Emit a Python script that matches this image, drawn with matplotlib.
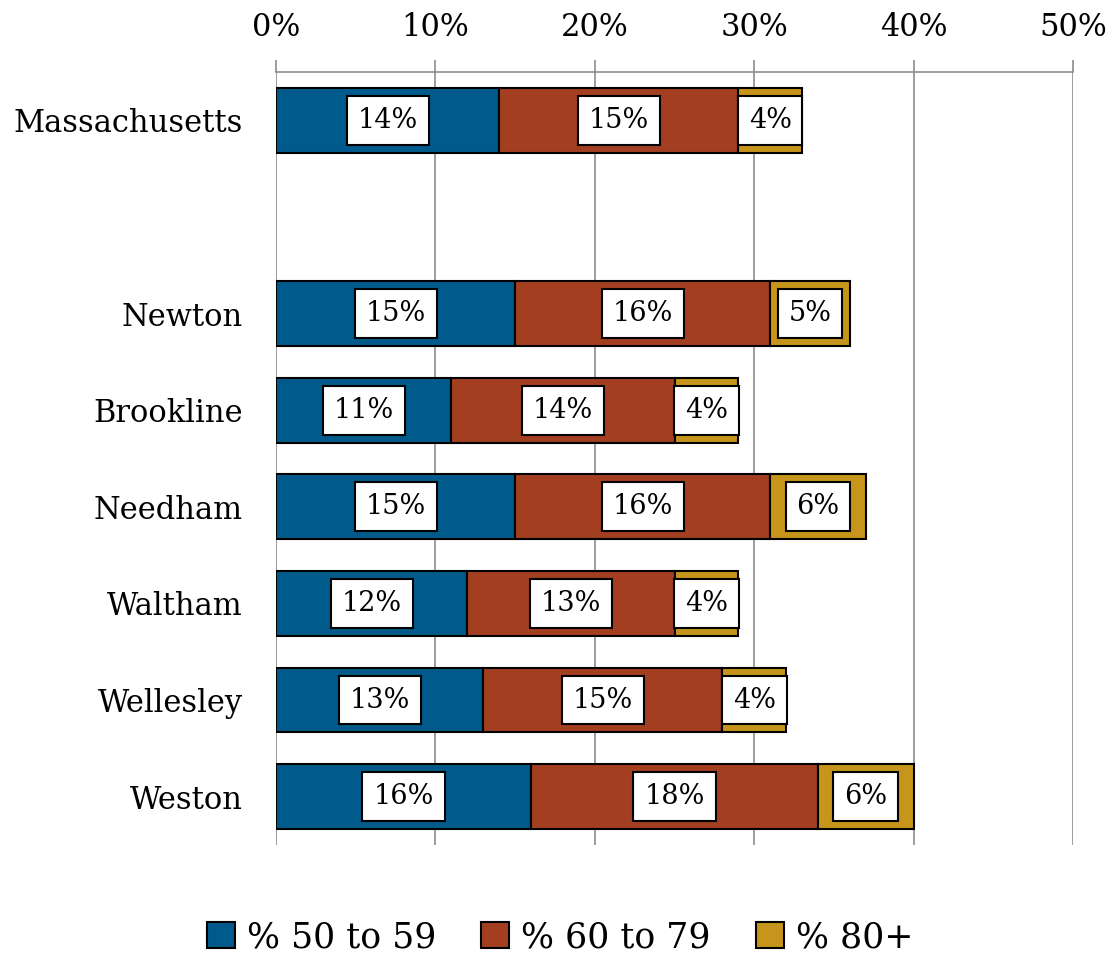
import matplotlib
matplotlib.use("Agg")
import matplotlib.pyplot as plt
import numpy as np
from matplotlib.patches import Patch

plt.rcParams['font.family'] = ['DejaVu Serif']

# categories, top to bottom; the empty string leaves a gap after the state row
places = ["Massachusetts", "", "Newton", "Brookline", "Needham", "Waltham", "Wellesley", "Weston"]
age_50_59 = [14, np.nan, 15, 11, 15, 12, 13, 16]
age_60_79 = [15, np.nan, 16, 14, 16, 13, 15, 18]
age_80_plus = [4, np.nan, 5, 4, 6, 4, 4, 6]
series_names = ["% 50 to 59", "% 60 to 79", "% 80+"]
colors = ["#005A8C", "#A33E21", "#C8951C"]
x_ticks = [0, 10, 20, 30, 40, 50]

fig = plt.figure(figsize=(11.18, 9.57), dpi=100)
ax = fig.add_axes([276 / 1118, 1 - 845 / 957, (1073 - 276) / 1118, (845 - 72) / 957])

y = np.arange(len(places))
left = np.zeros(len(places))
for vals, col, name in zip([age_50_59, age_60_79, age_80_plus], colors, series_names):
    vals = np.array(vals, dtype=float)
    ok = ~np.isnan(vals)
    ax.barh(y[ok], vals[ok], left=left[ok], height=0.67, color=col,
            edgecolor="black", linewidth=1.5, zorder=3, label=name)
    for yi, v, l in zip(y[ok], vals[ok], left[ok]):
        ax.text(l + v / 2, yi, f"{v:.0f}%", ha="center", va="center", fontsize=19.5,
                zorder=5,
                bbox=dict(boxstyle="square,pad=0.4", fc="white", ec="black", lw=1.5))
    left = left + np.nan_to_num(vals)

ax.set_xlim(0, 50)
ax.set_ylim(len(places) - 0.5, -0.5)
ax.set_xticks(x_ticks)
ax.set_xticklabels([f"{t}%" for t in x_ticks])
ax.xaxis.tick_top()
ax.tick_params(axis="x", which="both", direction="out", length=9, width=1.2,
               color="#8C8C8C", labelsize=22, pad=12)
ax.set_yticks(y)
ax.set_yticklabels(places)
ax.tick_params(axis="y", length=0, labelsize=22, pad=24)
ax.xaxis.grid(True, color="#8C8C8C", linewidth=1.2, zorder=0)
ax.set_axisbelow(True)
for side in ["left", "right", "bottom"]:
    ax.spines[side].set_visible(False)
ax.spines["top"].set_color("#8C8C8C")
ax.spines["top"].set_linewidth(1.2)

handles = [Patch(facecolor=c, edgecolor="black", linewidth=1.5, label=n)
           for c, n in zip(colors, series_names)]
fig.legend(handles=handles, loc="center", bbox_to_anchor=(560 / 1118, 1 - 937 / 957),
           ncol=3, frameon=False, fontsize=25, handlelength=0.8, handleheight=0.8,
           handletextpad=0.35, columnspacing=1.3)

fig.savefig("out.png", dpi=100)
